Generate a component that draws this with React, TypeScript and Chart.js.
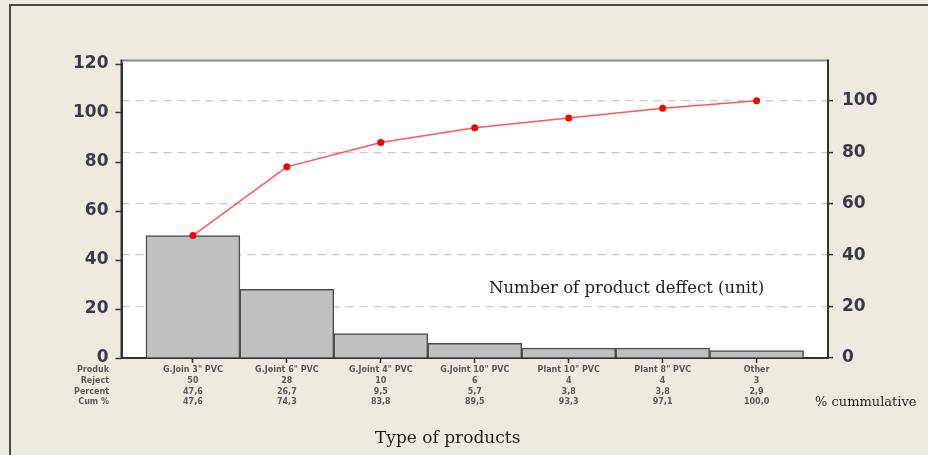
import React, { useEffect, useRef } from "react";
import { Chart, registerables } from "chart.js";

Chart.register(...registerables);

const categories = ['G.Join 3" PVC', 'G.Joint 6" PVC', 'G.Joint 4" PVC', 'G.Joint 10" PVC', 'Plant 10" PVC', 'Plant 8" PVC', "Other"];
const rejects = [50, 28, 10, 6, 4, 4, 3];
const percentLabels = ["47,6", "26,7", "9,5", "5,7", "3,8", "3,8", "2,9"];
const cumPercent = [47.6, 74.3, 83.8, 89.5, 93.3, 97.1, 100.0];
const cumLabels = ["47,6", "74,3", "83,8", "89,5", "93,3", "97,1", "100,0"];
const rowHeaders = ["Produk", "Reject", "Percent", "Cum %"];
const leftTicks = [0, 20, 40, 60, 80, 100, 120];
const rightTicks = [0, 20, 40, 60, 80, 100];
const LEFT_MAX = 120;
const RIGHT_MAX = 114.2857;
const innerTitle = "Number of product deffect (unit)";
const xTitle = "Type of products";
const rightNote = "% cummulative";

const W = 928;
const H = 455;
const TABLE_FONT = 8;
const TABLE_LH = 10.6;

export default function App() {
  const ref = useRef<HTMLCanvasElement | null>(null);

  useEffect(() => {
    const canvas = ref.current;
    if (!canvas) return;

    const framePlugin = {
      id: "frame",
      beforeDraw(chart: any) {
        const { ctx, chartArea } = chart;
        ctx.save();
        ctx.fillStyle = "#EEEAE0";
        ctx.fillRect(0, 0, W, H);
        ctx.strokeStyle = "#4a4a4a";
        ctx.lineWidth = 2;
        ctx.beginPath();
        ctx.moveTo(10, H);
        ctx.lineTo(10, 5);
        ctx.lineTo(W, 5);
        ctx.stroke();
        ctx.fillStyle = "#FFFFFF";
        ctx.fillRect(chartArea.left, chartArea.top - 4, chartArea.right - chartArea.left, chartArea.bottom - chartArea.top + 4);
        ctx.restore();
      },
      afterDraw(chart: any) {
        const { ctx, chartArea } = chart;
        ctx.save();
        ctx.setLineDash([]);
        ctx.strokeStyle = "#8c8c8c";
        ctx.lineWidth = 2;
        ctx.beginPath();
        ctx.moveTo(chartArea.left, chartArea.top - 3.5);
        ctx.lineTo(chartArea.right, chartArea.top - 3.5);
        ctx.stroke();
        // solid plot sides
        ctx.strokeStyle = "#333333";
        ctx.beginPath();
        ctx.moveTo(chartArea.left, chartArea.top - 4.5);
        ctx.lineTo(chartArea.left, chartArea.bottom);
        ctx.moveTo(chartArea.right, chartArea.top - 4.5);
        ctx.lineTo(chartArea.right, chartArea.bottom);
        ctx.stroke();

        ctx.fillStyle = "#5a5a5a";
        ctx.font = `bold ${TABLE_FONT}px "DejaVu Sans"`;
        ctx.textAlign = "right";
        ctx.textBaseline = "middle";
        const top0 = chartArea.bottom + 7;
        rowHeaders.forEach((h, i) => {
          ctx.fillText(h, 109, top0 + TABLE_LH * (i + 0.5));
        });

        ctx.fillStyle = "#1e1e1e";
        ctx.textAlign = "left";
        ctx.textBaseline = "alphabetic";
        ctx.font = '16.5px "DejaVu Serif"';
        ctx.fillText(innerTitle, 489, 293);
        ctx.font = '13px "DejaVu Serif"';
        ctx.fillText(rightNote, 815, 406);
        ctx.font = '17px "DejaVu Serif"';
        ctx.fillText(xTitle, 375, 443);
        ctx.restore();
      },
    };

    const chart = new Chart(canvas, {
      type: "bar",
      data: {
        datasets: [
          {
            type: "line",
            data: cumPercent.map((v, i) => ({ x: i, y: v })),
            yAxisID: "y1",
            xAxisID: "x",
            borderColor: "#FF5555",
            borderWidth: 1.5,
            pointBackgroundColor: "#FF0000",
            pointBorderColor: "#FF0000",
            pointRadius: 3.5,
            pointBorderWidth: 0,
            order: 0,
          } as any,
          {
            type: "bar",
            data: rejects.map((v, i) => ({ x: i, y: v })),
            yAxisID: "y",
            xAxisID: "x",
            backgroundColor: "#C0C0C0",
            borderColor: "#4d4d4d",
            borderWidth: 1.5,
            categoryPercentage: 1,
            barPercentage: 1,
            order: 1,
          } as any,
        ],
      },
      options: {
        responsive: false,
        animation: false,
        layout: { padding: { top: 64, left: 0, right: 0, bottom: 0 } },
        plugins: { legend: { display: false }, tooltip: { enabled: false }, title: { display: false } },
        scales: {
          x: {
            type: "linear",
            offset: false,
            min: -0.76,
            max: 6.76,
            afterBuildTicks: (s: any) => {
              s.ticks = categories.map((_, i) => ({ value: i }));
            },
            afterFit: (s: any) => {
              s.height = H - 358;
            },
            ticks: {
              autoSkip: false,
              maxRotation: 0,
              padding: 2,
              color: "#5a5a5a",
              font: { family: "DejaVu Sans", size: TABLE_FONT, weight: "bold", lineHeight: TABLE_LH / TABLE_FONT },
              callback: (v: any) => {
                const i = Math.round(Number(v));
                return [categories[i], String(rejects[i]), percentLabels[i], cumLabels[i]];
              },
            },
            grid: { offset: false, drawOnChartArea: false, drawTicks: true, tickLength: 5, tickColor: "#333333", tickWidth: 1.5 },
            border: { display: true, color: "#333333", width: 2 },
          },
          y: {
            position: "left",
            min: 0,
            max: LEFT_MAX,
            afterBuildTicks: (s: any) => {
              s.ticks = leftTicks.map((v) => ({ value: v }));
            },
            afterFit: (s: any) => {
              s.width = 121.5;
            },
            ticks: {
              padding: 7,
              color: "#3a3a4a",
              font: { family: "DejaVu Sans", size: 17, weight: "bold" },
            },
            grid: { drawOnChartArea: false, drawTicks: true, tickLength: 6, tickColor: "#333333", tickWidth: 1.5 },
            border: { display: true, color: "#333333", width: 2 },
          },
          y1: {
            position: "right",
            min: 0,
            max: RIGHT_MAX,
            afterBuildTicks: (s: any) => {
              s.ticks = rightTicks.map((v) => ({ value: v }));
            },
            afterFit: (s: any) => {
              s.width = W - 828;
            },
            ticks: {
              padding: 9,
              color: "#3a3a4a",
              font: { family: "DejaVu Sans", size: 17, weight: "bold" },
            },
            grid: {
              drawOnChartArea: true,
              drawTicks: true,
              tickLength: 5,
              tickColor: "#333333",
              tickWidth: 1.5,
              tickBorderDash: [],
              lineWidth: 1.2,
              color: (c: any) => (c.tick && c.tick.value === 0 ? "rgba(0,0,0,0)" : "#c9c9c9"),
            },
            border: { display: true, color: "#333333", width: 2, dash: [8, 6] },
          },
        },
      } as any,
      plugins: [framePlugin],
    });

    return () => chart.destroy();
  }, []);

  return (
    <div style={{ position: "absolute", left: 0, top: 0, width: W, height: H }}>
      <canvas ref={ref} width={W} height={H} style={{ width: W, height: H, display: "block" }} />
    </div>
  );
}
